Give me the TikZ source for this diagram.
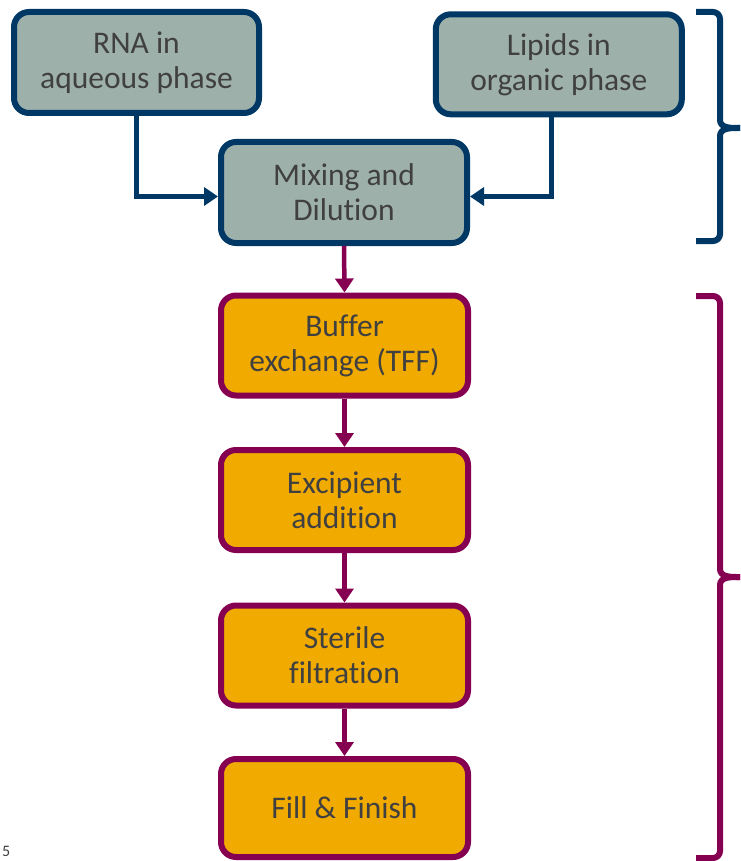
\documentclass[tikz,border=0pt]{standalone}
\usepackage{fontspec}
\setmainfont{Carlito}[Ligatures={NoCommon}]
\usetikzlibrary{arrows.meta}
\definecolor{navy}{RGB}{0,56,101}
\definecolor{sage}{RGB}{158,176,170}
\definecolor{plum}{RGB}{134,0,82}
\definecolor{amber}{RGB}{240,170,0}
\definecolor{txt}{RGB}{64,64,64}
\tikzset{
  box/.style={rounded corners=15pt, line width=6pt, minimum width=245pt, minimum height=101pt,
    align=center, text=txt, font=\fontsize{31.5}{35}\selectfont, inner sep=0pt},
  topbox/.style={box, draw=navy, fill=sage},
  procbox/.style={box, draw=plum, fill=amber, minimum width=247pt, minimum height=100pt},
  navyarr/.style={draw=navy, line width=4.5pt, -{Triangle[length=14pt,width=18pt]}},
  plumarr/.style={draw=plum, line width=4.5pt, -{Triangle[length=14pt,width=18pt]}},
  bracestyle/.style={line width=6pt}
}
\begin{document}
\begin{tikzpicture}[x=1pt,y=-1pt]
\useasboundingbox (0,0) rectangle (740,861);
\node[topbox] (rna) at (136.5,62.5) {RNA in\\aqueous phase};
\node[topbox, minimum width=246pt, minimum height=100pt] (lip) at (558.8,64.3) {Lipids in\\organic phase};
\node[topbox, minimum width=246pt] (mix) at (344,192.5) {Mixing and\\Dilution};
\node[procbox] (buf) at (344.5,345.5) {Buffer\\exchange (TFF)};
\node[procbox] (exc) at (344.5,500) {Excipient\\addition};
\node[procbox] (ster) at (344.5,655.5) {Sterile\\filtration};
\node[procbox, minimum height=98pt] (fill) at (344.5,808) {Fill \& Finish};
\coordinate (lv) at (551.5,0);
\draw[navyarr] (rna.south) |- ([yshift=-4pt]mix.west);
\draw[navyarr] (lv |- lip.south) |- ([yshift=-4pt]mix.east);
\draw[plumarr] (mix.south) -- (buf.north);
\draw[plumarr] (buf.south) -- (exc.north);
\draw[plumarr] (exc.south) -- (ster.north);
\draw[plumarr] (ster.south) -- (fill.north);
% braces
\draw[bracestyle, navy] (696,12) -- (713,12) to[out=0,in=90] (720,19) -- (720,120) to[out=-90,in=180] (740,128);
\draw[bracestyle, navy] (740,128) to[out=180,in=90] (720,136) -- (720,234) to[out=-90,in=0] (713,241) -- (696,241);
\draw[bracestyle, plum] (696,296) -- (713,296) to[out=0,in=90] (720,303) -- (720,569) to[out=-90,in=180] (740,577);
\draw[bracestyle, plum] (740,577) to[out=180,in=90] (720,585) -- (720,851) to[out=-90,in=0] (713,858) -- (696,858);
\node[anchor=base west, text=txt, font=\fontsize{16}{18}\selectfont, inner sep=0pt] (pg) at (2,856) {5};
\end{tikzpicture}
\end{document}
